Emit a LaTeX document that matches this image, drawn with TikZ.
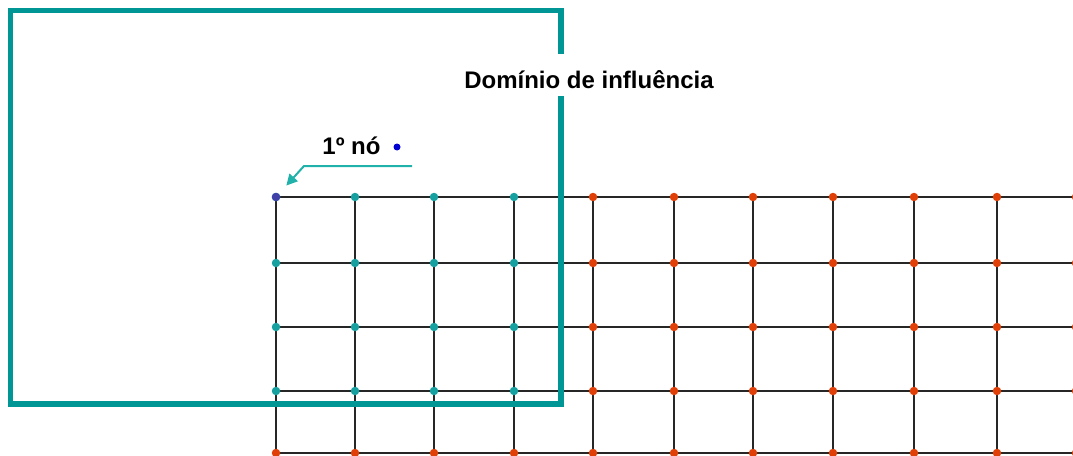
\documentclass[tikz,border=0pt]{standalone}
\usepackage{fontspec}
\setmainfont{Liberation Sans}
\usetikzlibrary{arrows.meta}
\definecolor{domainteal}{RGB}{0,150,150}
\definecolor{arrowteal}{RGB}{32,178,170}
\definecolor{nodeteal}{RGB}{22,160,160}
\definecolor{nodered}{RGB}{224,64,8}
\definecolor{firstblue}{RGB}{64,64,168}
\definecolor{markblue}{RGB}{0,0,210}

\begin{document}
\begin{tikzpicture}[x=1pt, y=-1pt, font=\bfseries\fontsize{24}{28}\selectfont,
        meshdot/.style={circle, inner sep=0pt, minimum size=8.5pt, fill=#1},
        meshline/.style={line width=1.6pt, black!85}]
        \useasboundingbox (0,0) rectangle (1073,455);
        \foreach \x in {276,355,434,514,593,674,753,833,914,997} \draw[meshline] (\x,197) -- (\x,455);
        \foreach \y in {197,263,327,391,453} \draw[meshline] (276,\y) -- (1073,\y);
        % nodes inside the domain are teal, the others red
        \foreach \x [count=\i] in {276,355,434,514,593,674,753,833,914,997,1076}
            \foreach \y [count=\j] in {197,263,327,391,453} {
                \ifnum\i<5 \ifnum\j<5 \def\dotcol{nodeteal}\else\def\dotcol{nodered}\fi
                \else \def\dotcol{nodered}\fi
                \node[meshdot=\dotcol] (n\i-\j) at (\x,\y) {};
            }
        \node[meshdot=firstblue] (n1-1) at (276,197) {};
        \draw[line width=5.5pt, domainteal] (10.5,10.5) rectangle (561,404);
        \node[fill=white, inner xsep=2pt, inner ysep=0pt, text height=34pt, text depth=8pt, anchor=base] (domain) at (589,88) {Domínio de influência};
        \node[anchor=base] (firstlabel) at (351.5,154) {1º nó};
        \node[meshdot=markblue, minimum size=7pt] (mark) at (397,147) {};
        \coordinate (pstart) at (412,166);
        \coordinate (pbend) at (304,166);
        \draw[arrowteal, line width=2pt, -{Triangle[length=11pt, width=11pt]}, shorten >=11pt] (pstart) -- (pbend) -- (n1-1);
    \end{tikzpicture}
\end{document}
